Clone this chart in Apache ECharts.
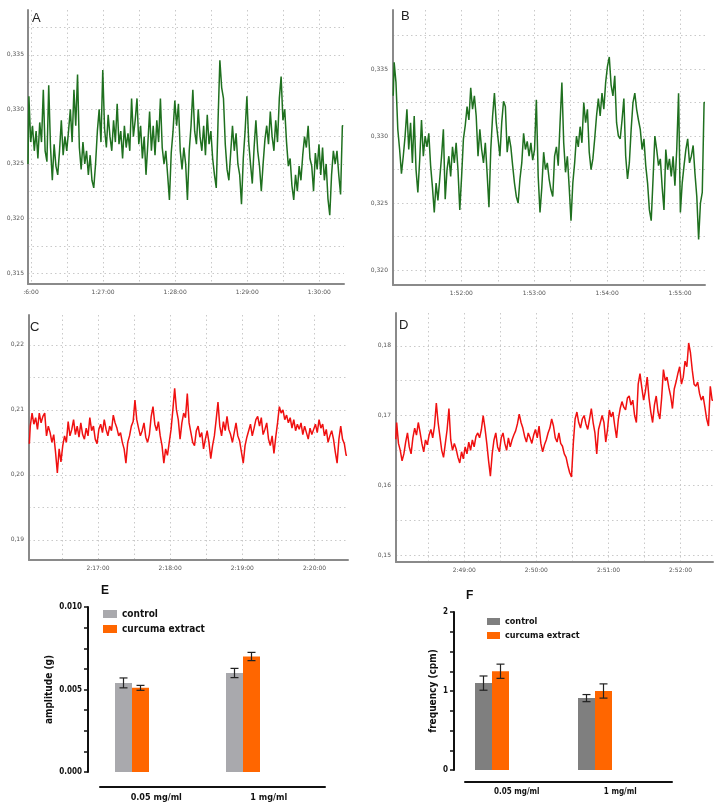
<!DOCTYPE html>
<html><head><meta charset="utf-8">
<script src="https://cdn.jsdelivr.net/npm/echarts@6/dist/echarts.min.js"></script>
<style>html,body{margin:0;padding:0;background:#fff}#c{width:720px;height:810px}</style>
</head><body><div id="c"></div>
<script>
// ---------- Trace data (time in seconds of day, uniform sampling) ----------
const traceA_start = 5157.5, traceA_step = 1.5;
const traceA = [
0.3250,0.3312,0.3270,0.3285,0.3262,0.3280,0.3255,0.3288,0.3270,0.3318,
0.3262,0.3252,0.3322,0.3265,0.3235,0.3268,0.3248,0.3240,0.3262,0.3290,
0.3258,0.3275,0.3262,0.3280,0.3300,0.3270,0.3318,0.3285,0.3332,0.3265,
0.3245,0.3270,0.3250,0.3262,0.3240,0.3258,0.3235,0.3228,0.3250,0.3280,
0.3300,0.3270,0.3336,0.3282,0.3265,0.3295,0.3275,0.3262,0.3290,0.3270,
0.3305,0.3268,0.3280,0.3255,0.3285,0.3265,0.3278,0.3262,0.3310,0.3275,
0.3290,0.3310,0.3268,0.3285,0.3255,0.3275,0.3240,0.3268,0.3298,0.3262,
0.3285,0.3258,0.3290,0.3270,0.3310,0.3265,0.3250,0.3262,0.3240,0.3217,
0.3260,0.3280,0.3308,0.3285,0.3305,0.3262,0.3245,0.3265,0.3250,0.3217,
0.3262,0.3285,0.3318,0.3280,0.3268,0.3300,0.3275,0.3262,0.3285,0.3258,
0.3295,0.3268,0.3280,0.3255,0.3240,0.3228,0.3290,0.3345,0.3320,0.3310,
0.3268,0.3245,0.3235,0.3260,0.3285,0.3262,0.3278,0.3250,0.3240,0.3213,
0.3255,0.3280,0.3312,0.3270,0.3250,0.3232,0.3265,0.3290,0.3262,0.3248,
0.3225,0.3250,0.3272,0.3285,0.3268,0.3298,0.3275,0.3262,0.3290,0.3270,
0.3310,0.3330,0.3290,0.3300,0.3270,0.3248,0.3255,0.3230,0.3217,0.3240,
0.3225,0.3248,0.3235,0.3258,0.3275,0.3265,0.3285,0.3255,0.3248,0.3225,
0.3260,0.3245,0.3268,0.3240,0.3265,0.3235,0.3250,0.3218,0.3203,0.3240,
0.3262,0.3250,0.3262,0.3240,0.3222,0.3285];

const traceB_start = 6664, traceB_step = 1.5;
const traceB = [
0.3330,0.3355,0.3340,0.3305,0.3290,0.3272,0.3285,0.3300,0.3320,0.3290,
0.3310,0.3280,0.3315,0.3275,0.3258,0.3282,0.3312,0.3285,0.3300,0.3292,
0.3302,0.3278,0.3262,0.3243,0.3265,0.3252,0.3268,0.3285,0.3305,0.3253,
0.3275,0.3285,0.3270,0.3292,0.3280,0.3295,0.3275,0.3245,0.3270,0.3298,
0.3308,0.3322,0.3312,0.3336,0.3320,0.3330,0.3315,0.3285,0.3305,0.3290,
0.3280,0.3295,0.3272,0.3247,0.3290,0.3315,0.3332,0.3310,0.3298,0.3285,
0.3310,0.3326,0.3322,0.3288,0.3300,0.3292,0.3278,0.3265,0.3255,0.3250,
0.3268,0.3280,0.3302,0.3290,0.3296,0.3285,0.3295,0.3282,0.3290,0.3327,
0.3270,0.3243,0.3262,0.3288,0.3275,0.3280,0.3268,0.3260,0.3255,0.3285,
0.3292,0.3278,0.3310,0.3340,0.3295,0.3273,0.3285,0.3262,0.3237,0.3265,
0.3280,0.3300,0.3292,0.3307,0.3295,0.3325,0.3310,0.3320,0.3288,0.3275,
0.3283,0.3298,0.3315,0.3328,0.3315,0.3332,0.3320,0.3340,0.3352,0.3359,
0.3338,0.3330,0.3345,0.3310,0.3300,0.3298,0.3312,0.3328,0.3285,0.3268,
0.3280,0.3305,0.3325,0.3332,0.3320,0.3312,0.3305,0.3290,0.3298,0.3278,
0.3265,0.3245,0.3237,0.3268,0.3300,0.3290,0.3278,0.3283,0.3262,0.3245,
0.3290,0.3275,0.3283,0.3270,0.3285,0.3263,0.3290,0.3332,0.3243,0.3265,
0.3278,0.3290,0.3298,0.3280,0.3285,0.3293,0.3272,0.3255,0.3223,0.3250,
0.3258,0.3325];

const traceC_start = 8163, traceC_step = 1.5;
const traceC = [
0.2048,0.2075,0.2095,0.2078,0.2088,0.2070,0.2095,0.2080,0.2090,0.2095,
0.2060,0.2075,0.2065,0.2050,0.2062,0.2035,0.2003,0.2040,0.2020,0.2045,
0.2060,0.2050,0.2082,0.2060,0.2070,0.2085,0.2062,0.2075,0.2058,0.2080,
0.2062,0.2055,0.2072,0.2060,0.2088,0.2068,0.2075,0.2055,0.2048,0.2070,
0.2078,0.2065,0.2085,0.2070,0.2060,0.2075,0.2068,0.2092,0.2080,0.2072,
0.2060,0.2065,0.2050,0.2040,0.2018,0.2050,0.2060,0.2075,0.2082,0.2115,
0.2085,0.2072,0.2060,0.2068,0.2080,0.2058,0.2050,0.2062,0.2090,0.2105,
0.2078,0.2068,0.2082,0.2060,0.2045,0.2018,0.2040,0.2030,0.2050,0.2070,
0.2100,0.2133,0.2100,0.2085,0.2055,0.2080,0.2095,0.2088,0.2125,0.2080,
0.2065,0.2050,0.2045,0.2068,0.2075,0.2058,0.2065,0.2040,0.2055,0.2068,
0.2050,0.2025,0.2045,0.2060,0.2085,0.2112,0.2075,0.2060,0.2082,0.2068,
0.2090,0.2070,0.2062,0.2050,0.2065,0.2080,0.2060,0.2052,0.2035,0.2018,
0.2045,0.2058,0.2068,0.2078,0.2060,0.2072,0.2085,0.2090,0.2075,0.2088,
0.2062,0.2070,0.2080,0.2055,0.2045,0.2060,0.2033,0.2058,0.2080,0.2105,
0.2095,0.2100,0.2085,0.2092,0.2080,0.2088,0.2072,0.2085,0.2068,0.2078,
0.2070,0.2080,0.2062,0.2075,0.2065,0.2055,0.2072,0.2062,0.2070,0.2078,
0.2065,0.2085,0.2072,0.2078,0.2060,0.2070,0.2050,0.2060,0.2068,0.2055,
0.2035,0.2018,0.2055,0.2075,0.2055,0.2048,0.2030];

const traceD_start = 10083, traceD_step = 1.5;
const traceD = [
0.1666,0.1690,0.1660,0.1650,0.1635,0.1645,0.1662,0.1675,0.1655,0.1645,
0.1668,0.1682,0.1672,0.1690,0.1676,0.1660,0.1648,0.1665,0.1658,0.1672,
0.1680,0.1668,0.1685,0.1718,0.1690,0.1670,0.1650,0.1640,0.1660,0.1680,
0.1710,0.1665,0.1650,0.1660,0.1652,0.1640,0.1632,0.1648,0.1638,0.1655,
0.1645,0.1662,0.1650,0.1665,0.1655,0.1670,0.1675,0.1668,0.1680,0.1700,
0.1682,0.1660,0.1635,0.1613,0.1645,0.1665,0.1675,0.1655,0.1648,0.1668,
0.1675,0.1660,0.1650,0.1668,0.1655,0.1665,0.1672,0.1678,0.1688,0.1702,
0.1690,0.1682,0.1670,0.1662,0.1675,0.1668,0.1660,0.1672,0.1680,0.1668,
0.1685,0.1660,0.1648,0.1658,0.1665,0.1675,0.1682,0.1695,0.1685,0.1668,
0.1662,0.1675,0.1660,0.1656,0.1645,0.1640,0.1628,0.1618,0.1612,0.1660,
0.1695,0.1705,0.1690,0.1682,0.1695,0.1700,0.1688,0.1680,0.1695,0.1710,
0.1690,0.1675,0.1645,0.1680,0.1690,0.1700,0.1690,0.1662,0.1680,0.1708,
0.1698,0.1705,0.1685,0.1668,0.1695,0.1710,0.1720,0.1712,0.1708,0.1725,
0.1728,0.1715,0.1722,0.1700,0.1690,0.1745,0.1760,0.1740,0.1722,0.1735,
0.1755,0.1725,0.1705,0.1690,0.1715,0.1728,0.1705,0.1695,0.1725,0.1766,
0.1750,0.1755,0.1740,0.1728,0.1710,0.1738,0.1748,0.1760,0.1770,0.1745,
0.1755,0.1778,0.1770,0.1804,0.1790,0.1765,0.1745,0.1742,0.1748,0.1732,
0.1722,0.1728,0.1712,0.1695,0.1685,0.1742,0.1722];

// ---------- Trace axis ticks ----------
const A_xGrid = [5160,5190,5220,5250,5280,5310,5340,5370,5400];
const A_xLab = [5160,5220,5280,5340,5400];
const A_xLabText = [':6:00','1:27:00','1:28:00','1:29:00','1:30:00'];
const A_yGrid = [0.315,0.3175,0.32,0.3225,0.325,0.3275,0.33,0.3325,0.335,0.3375];
const A_yLab = [0.315,0.32,0.325,0.33,0.335];
const A_yLabText = ['0,315','0,320','0,325','0,330','0,335'];

const B_xGrid = [6690,6720,6750,6780,6810,6840,6870,6900];
const B_xLab = [6720,6780,6840,6900];
const B_xLabText = ['1:52:00','1:53:00','1:54:00','1:55:00'];
const B_yGrid = [0.32,0.3225,0.325,0.3275,0.33,0.3325,0.335,0.3375];
const B_yLab = [0.32,0.325,0.33,0.335];
const B_yLabText = ['0,320','0,325','0,330','0,335'];

const C_xGrid = [8190,8220,8250,8280,8310,8340,8370,8400];
const C_xLab = [8220,8280,8340,8400];
const C_xLabText = ['2:17:00','2:18:00','2:19:00','2:20:00'];
const C_yGrid = [0.19,0.195,0.2,0.205,0.21,0.215,0.22];
const C_yLab = [0.19,0.2,0.21,0.22];
const C_yLabText = ['0,19','0,20','0,21','0,22'];

const D_xGrid = [10110,10140,10170,10200,10230,10260,10290,10320];
const D_xLab = [10140,10200,10260,10320];
const D_xLabText = ['2:49:00','2:50:00','2:51:00','2:52:00'];
const D_yGrid = [0.15,0.155,0.16,0.165,0.17,0.175,0.18];
const D_yLab = [0.15,0.16,0.17,0.18];
const D_yLabText = ['0,15','0,16','0,17','0,18'];

// ---------- Bar data ----------
const barCategories = ['0.05 mg/ml', '1 mg/ml'];
const E_control = [0.0054, 0.0060];
const E_controlErr = [0.0003, 0.00028];
const E_curcuma = [0.0051, 0.0070];
const E_curcumaErr = [0.00015, 0.00025];
const E_yLab = [0, 0.005, 0.01];
const E_yLabText = ['0.000','0.005','0.010'];

const F_control = [1.10, 0.91];
const F_controlErr = [0.09, 0.045];
const F_curcuma = [1.25, 1.00];
const F_curcumaErr = [0.09, 0.09];
const F_yLab = [0, 1, 2];
const F_yLabText = ['0','1','2'];

// ---------- Build ----------
const BAR_W = 17;
function lookup(vals, texts) {
  return function (v) {
    for (let i = 0; i < vals.length; i++) if (Math.abs(vals[i] - v) < 1e-6) return texts[i];
    return '';
  };
}
function toPts(start, step, arr) { return arr.map((v, i) => [start + i * step, v]); }

const traceFont = 'DejaVu Sans';
const grids = [
  {left: 28, top: 10, width: 316, height: 274},
  {left: 393, top: 10, width: 312, height: 275},
  {left: 29, top: 315, width: 319, height: 245},
  {left: 396, top: 313, width: 317, height: 249},
  {left: 76.5, top: 607, width: 222, height: 165},
  {left: 100, top: 700, width: 225, height: 87},
  {left: 440.5, top: 612, width: 206, height: 158},
  {left: 465, top: 700, width: 207, height: 82}
];
const xAxes = [], yAxes = [], series = [];

function traceAxes(g, xmin, xmax, xGrid, xLab, xLabText, ymin, ymax, yGrid, yLab, yLabText, yMargin) {
  const split = {show: true, lineStyle: {color: '#c9c9c9', width: 1, type: [1.5, 3]}};
  xAxes.push({
    type: 'value', gridIndex: g, min: xmin, max: xmax,
    axisLine: {show: true, onZero: false, lineStyle: {color: '#8a8a8a', width: 2}},
    axisTick: {show: false, customValues: xGrid},
    axisLabel: {customValues: xLab, formatter: lookup(xLab, xLabText), fontSize: 6, color: '#555', fontFamily: traceFont, margin: 5},
    splitLine: split
  });
  yAxes.push({
    type: 'value', gridIndex: g, min: ymin, max: ymax,
    axisLine: {show: true, onZero: false, lineStyle: {color: '#8a8a8a', width: 2}},
    axisTick: {show: false, customValues: yGrid},
    axisLabel: {customValues: yLab, formatter: lookup(yLab, yLabText), fontSize: 6, color: '#555', fontFamily: traceFont, margin: yMargin},
    splitLine: split
  });
}
traceAxes(0, 5157.5, 5420.6, A_xGrid, A_xLab, A_xLabText, 0.3140, 0.3391, A_yGrid, A_yLab, A_yLabText, 4);
traceAxes(1, 6663.8, 6920.5, B_xGrid, B_xLab, B_xLabText, 0.3189, 0.3394, B_yGrid, B_yLab, B_yLabText, 5);
traceAxes(2, 8162.7, 8427.8, C_xGrid, C_xLab, C_xLabText, 0.1869, 0.2246, C_yGrid, C_yLab, C_yLabText, 5);
traceAxes(3, 10083.2, 10347, D_xGrid, D_xLab, D_xLabText, 0.1490, 0.1847, D_yGrid, D_yLab, D_yLabText, 5);

const green = '#1f701f', red = '#f01010';
[[traceA_start, traceA_step, traceA, green], [traceB_start, traceB_step, traceB, green],
 [traceC_start, traceC_step, traceC, red], [traceD_start, traceD_step, traceD, red]].forEach((t, i) => {
  series.push({
    type: 'line', xAxisIndex: i, yAxisIndex: i, data: toPts(t[0], t[1], t[2]),
    step: 'middle', showSymbol: false, symbol: 'none', lineStyle: {color: t[3], width: 1.5}, silent: true
  });
});

const barFont = "'Liberation Sans Narrow','DejaVu Sans Condensed','Liberation Sans',sans-serif";

function barPanel(gBar, gLab, ymax, tickInt, yLab, yLabText, yOffset, yName, nameGap, ctrl, ctrlErr, curc, curcErr, ctrlColor, labFont) {
  const bi = xAxes.length;
  xAxes.push({type: 'category', gridIndex: gBar, data: barCategories, show: false});
  yAxes.push({
    type: 'value', gridIndex: gBar, min: 0, max: ymax, interval: tickInt, offset: yOffset,
    name: yName, nameLocation: 'middle', nameGap: nameGap,
    nameTextStyle: {fontSize: 10, fontWeight: 'bold', color: '#111', fontFamily: barFont},
    axisLine: {show: true, lineStyle: {color: '#111', width: 2}},
    axisTick: {show: true, length: 4, lineStyle: {color: '#111', width: 1.5}},
    axisLabel: {customValues: yLab, formatter: lookup(yLab, yLabText), fontSize: 8, fontWeight: 'bold', color: '#111', fontFamily: barFont, margin: 6},
    splitLine: {show: false}
  });
  xAxes.push({
    type: 'category', gridIndex: gLab, data: barCategories,
    axisLine: {show: true, lineStyle: {color: '#111', width: 2}},
    axisTick: {show: false},
    axisLabel: {fontSize: labFont, fontWeight: 'bold', color: '#111', fontFamily: barFont, margin: 6}
  });
  yAxes.push({type: 'value', gridIndex: gLab, show: false, min: 0, max: 1});

  series.push({type: 'bar', name: 'control', xAxisIndex: bi, yAxisIndex: bi, data: ctrl, barWidth: BAR_W, barGap: '0%', itemStyle: {color: ctrlColor}, silent: true});
  series.push({type: 'bar', name: 'curcuma extract', xAxisIndex: bi, yAxisIndex: bi, data: curc, barWidth: BAR_W, barGap: '0%', itemStyle: {color: '#ff6600'}, silent: true});
  function errSeries(vals, errs, sign) {
    return {
      type: 'custom', xAxisIndex: bi, yAxisIndex: bi, silent: true, z: 5,
      data: vals.map((v, i) => [i, v, errs[i]]),
      renderItem: function (params, api) {
        const c = api.value(0), v = api.value(1), e = api.value(2);
        const hi = api.coord([c, v + e]), lo = api.coord([c, v - e]);
        const x = hi[0] + sign * BAR_W / 2;
        const st = {stroke: '#222', lineWidth: 1.2};
        return {type: 'group', children: [
          {type: 'line', shape: {x1: x, y1: hi[1], x2: x, y2: lo[1]}, style: st},
          {type: 'line', shape: {x1: x - 4, y1: hi[1], x2: x + 4, y2: hi[1]}, style: st},
          {type: 'line', shape: {x1: x - 4, y1: lo[1], x2: x + 4, y2: lo[1]}, style: st}
        ]};
      }
    };
  }
  series.push(errSeries(ctrl, ctrlErr, -1));
  series.push(errSeries(curc, curcErr, 1));
}
barPanel(4, 5, 0.01, 0.00125, E_yLab, E_yLabText, -11.5, 'amplitude (g)', 34, E_control, E_controlErr, E_curcuma, E_curcumaErr, '#a9a9ad', 9);
barPanel(6, 7, 2, 0.25, F_yLab, F_yLabText, -13.5, 'frequency (cpm)', 16, F_control, F_controlErr, F_curcuma, F_curcumaErr, '#7f7f7f', 8);

const letterStyle = {fontSize: 13, fontWeight: 'normal', color: '#222', fontFamily: 'Liberation Sans'};
const letterBold = {fontSize: 12, fontWeight: 'bold', color: '#111', fontFamily: 'Liberation Sans'};
const option = {
  animation: false,
  backgroundColor: '#fff',
  title: [
    {text: 'A', left: 32, top: 12, padding: 0, textStyle: letterStyle},
    {text: 'B', left: 401, top: 10, padding: 0, textStyle: letterStyle},
    {text: 'C', left: 30, top: 321, padding: 0, textStyle: letterStyle},
    {text: 'D', left: 399, top: 319, padding: 0, textStyle: letterStyle},
    {text: 'E', left: 101, top: 585, padding: 0, textStyle: letterBold},
    {text: 'F', left: 466, top: 590, padding: 0, textStyle: letterBold}
  ],
  legend: [
    {left: 103, top: 609, orient: 'vertical', padding: 0, itemWidth: 14, itemHeight: 8, itemGap: 5, icon: 'rect', selectedMode: false,
     textStyle: {fontSize: 10, fontWeight: 'bold', color: '#111', fontFamily: barFont},
     data: [{name: 'control', itemStyle: {color: '#a9a9ad'}}, {name: 'curcuma extract', itemStyle: {color: '#ff6600'}}]},
    {left: 487, top: 617, orient: 'vertical', padding: 0, itemWidth: 13, itemHeight: 7, itemGap: 5, icon: 'rect', selectedMode: false,
     textStyle: {fontSize: 9, fontWeight: 'bold', color: '#111', fontFamily: barFont},
     data: [{name: 'control', itemStyle: {color: '#7f7f7f'}}, {name: 'curcuma extract', itemStyle: {color: '#ff6600'}}]}
  ],
  grid: grids,
  xAxis: xAxes,
  yAxis: yAxes,
  series: series
};
const chart = echarts.init(document.getElementById('c'));
chart.setOption(option);
</script>
</body></html>
